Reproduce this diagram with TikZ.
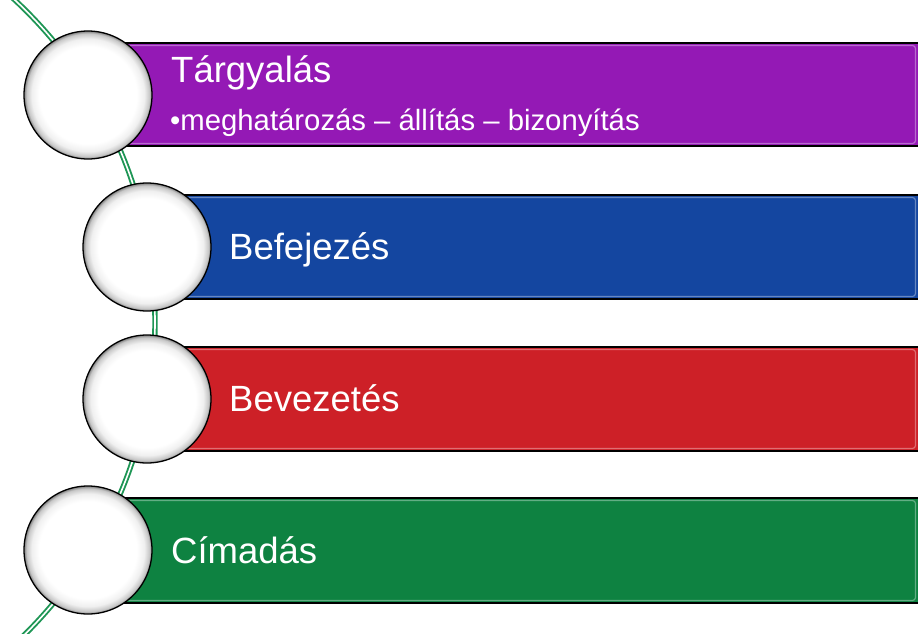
\documentclass[tikz,border=0pt]{standalone}
\usepackage{fontspec}
\setmainfont{Liberation Sans}
\pgfdeclareradialshading{ballshade}{\pgfpoint{0bp}{0bp}}{color(0bp)=(white); color(19bp)=(white); color(22bp)=(black!6); color(24bp)=(black!22); color(25bp)=(black!50); color(50bp)=(black!50)}
\definecolor{cpurple}{RGB}{148,25,181}
\definecolor{cblue}{RGB}{20,70,160}
\definecolor{cred}{RGB}{205,32,39}
\definecolor{cgreen}{RGB}{14,130,65}
\definecolor{curvegreen}{RGB}{30,150,85}
\tikzset{
  ball/.style={circle, minimum size=128pt, inner sep=0pt, shading=ballshade, draw=black, line width=1.3pt},
  bigtxt/.style={anchor=base west, inner sep=0pt, text=white, font=\fontsize{36.5}{40}\selectfont},
  smalltxt/.style={anchor=base west, inner sep=0pt, text=white, font=\fontsize{29.3}{32}\selectfont},
  rail/.style={draw=curvegreen, line width=1.9pt, double=white, double distance=1.6pt}
}
\newcommand{\mybar}[4]{% left, top, bottom, color
  \fill[#4] (#1,#2) rectangle (930,#3);
  \draw[#4!65!white, line width=1.2pt, rounded corners=3pt] (#1,#2+2.5) -- (915.5,#2+2.5) -- (915.5,#3-2.5) -- (#1,#3-2.5);
  \draw[black, line width=1.3pt] (#1,#2) -- (930,#2) (#1,#3) -- (930,#3);
}
\begin{document}
\begin{tikzpicture}[x=1pt,y=-1pt]
\useasboundingbox (0,0) rectangle (918,634);
\clip (0,0) rectangle (918,634);
\fill[white] (0,0) rectangle (918,634);
% rail curve
\draw[rail] (-285,322) circle (440);
% bars
\mybar{88}{43}{146}{cpurple}
\mybar{147}{195}{299}{cblue}
\mybar{147}{347}{451}{cred}
\mybar{88}{498}{603}{cgreen}
% circles
\node[ball] (c1) at (88,95) {};
\node[ball] (c2) at (147,247) {};
\node[ball] (c3) at (147,399) {};
\node[ball] (c4) at (88,550) {};
% texts
\node[bigtxt] (t1) at (171,82) {Tárgyalás};
\node[smalltxt] (t1b) at (170,130) {•meghatározás – állítás – bizonyítás};
\node[bigtxt] (t2) at (229,259) {Befejezés};
\node[bigtxt] (t3) at (229,411) {Bevezetés};
\node[bigtxt] (t4) at (171,563) {Címadás};
\end{tikzpicture}
\end{document}
